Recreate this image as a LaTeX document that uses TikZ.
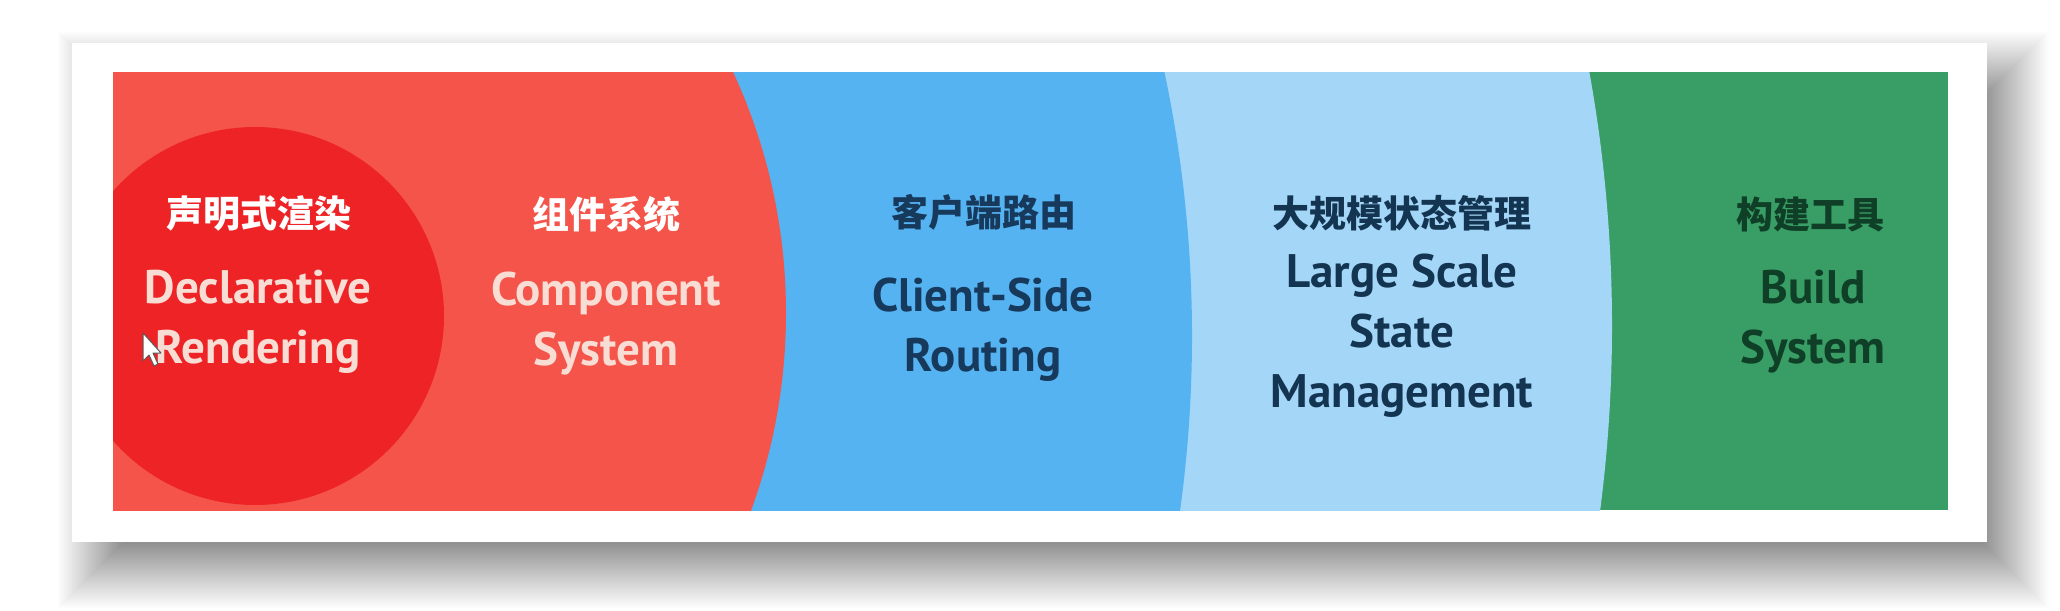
\documentclass[tikz,border=0pt]{standalone}
\usepackage{fontspec}
\setmainfont{PT Sans}
\newfontfamily\cjk{Noto Sans CJK SC}
\definecolor{redlight}{HTML}{F4544A}
\definecolor{reddark}{HTML}{EE2325}
\definecolor{blueA}{HTML}{56B3F2}
\definecolor{blueB}{HTML}{A4D6F8}
\definecolor{greenA}{HTML}{389E66}
\definecolor{enred}{HTML}{F8DDD5}
\definecolor{navyA}{HTML}{16395C}
\definecolor{navyB}{HTML}{143551}
\definecolor{dgreen}{HTML}{103F27}
\tikzset{
  cn/.style={font=\cjk\bfseries\fontsize{37}{40}\selectfont, inner sep=0pt},
  en/.style={font=\bfseries\fontsize{47}{60}\selectfont, align=center, inner sep=0pt, anchor=north},
}
\begin{document}
\begin{tikzpicture}[x=1pt,y=-1pt]
\useasboundingbox (0,0) rectangle (2060,610);
\fill[white] (0,0) rectangle (2060,610);
% soft shadow of the card: nested opaque greys, outer (light) to inner (dark)
\foreach \r in {42,40,...,-42}{
  \pgfmathsetmacro\k{55*(0.5-\r/84)}
  \fill[black!\k] ({98-\r},{72-\r}) rectangle ({2008+\r},{568+\r});
}
% card
\fill[white] (72,43) rectangle (1987,542);
% coloured band
\begin{scope}
  \clip (113,72) rectangle (1948,510);
  \fill[greenA] (113,72) rectangle (1948,510);
  \fill[blueB] (192,326) circle[radius=1420pt];
  \fill[blueA] (-73,336) circle[radius=1265pt];
  \fill[redlight] (213,313) circle[radius=573pt];
  \fill[reddark] (255,316) circle[radius=189pt];
\end{scope}
% labels
\node[cn,text=white] (c1) at (259,214) {声明式渲染};
\node[en,text=enred] (e1) at (258,270) {Declarative\\Rendering};
\node[cn,text=white] (c2) at (606,214) {组件系统};
\node[en,text=enred] (e2) at (606,272) {Component\\System};
\node[cn,text=navyA] (c3) at (984,212) {客户端路由};
\node[en,text=navyA] (e3) at (983,278) {Client-Side\\Routing};
\node[cn,text=navyB] (c4) at (1402,213) {大规模状态管理};
\node[en,text=navyB] (e4) at (1402,254) {Large Scale\\State\\Management};
\node[cn,text=dgreen] (c5) at (1810,214) {构建工具};
\node[en,text=dgreen] (e5) at (1813,270) {Build\\System};
% mouse pointer
\draw[fill=white, draw=gray!70!black, line width=1pt, line join=round]
  (143,333) -- (143,361) -- (149,355) -- (154,366) -- (158,364) -- (153,353) -- (161,353) -- cycle;
\end{tikzpicture}
\end{document}
